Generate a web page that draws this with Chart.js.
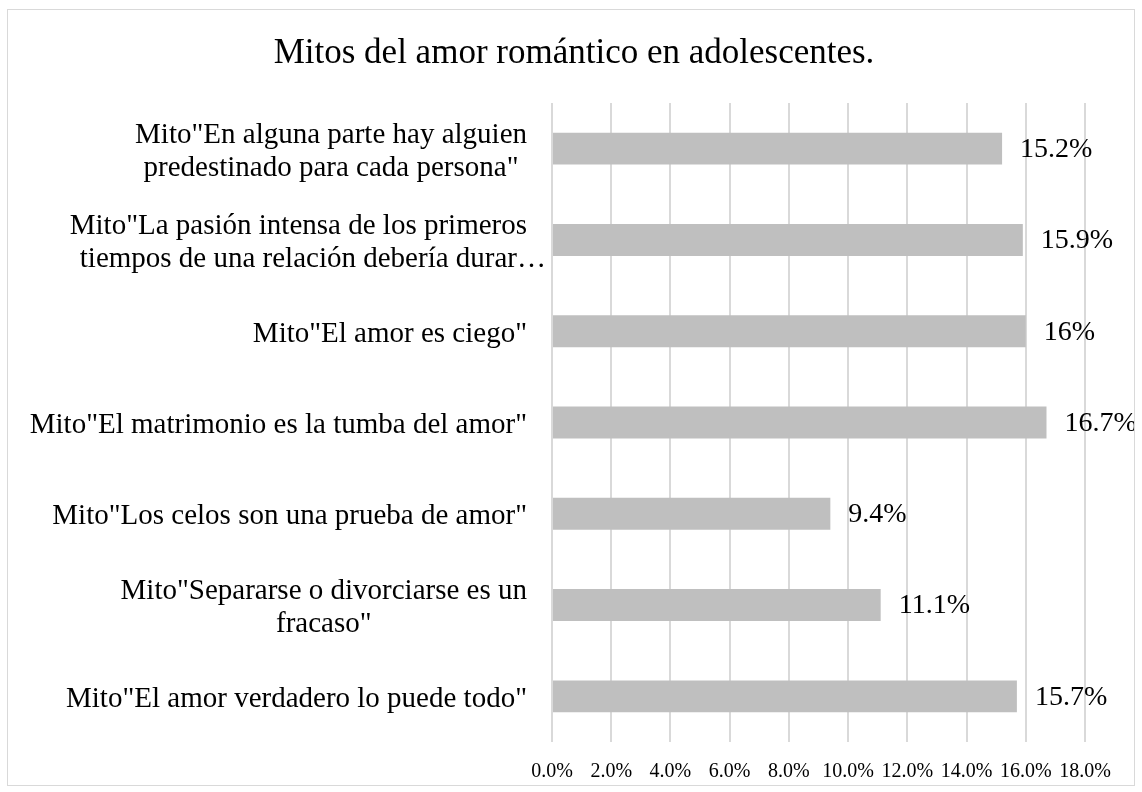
<!DOCTYPE html>
<html>
<head>
<meta charset="utf-8">
<script src="https://cdn.jsdelivr.net/npm/chart.js@4/dist/chart.umd.min.js"></script>
<style>
  body { margin: 0; background: #fff; }
  #box { position: absolute; left: 7px; top: 9px; width: 1126px; height: 775px; border: 1px solid #d9d9d9; }
</style>
</head>
<body>
<div id="box"><canvas id="chart" width="1126" height="775"></canvas></div>
<script>
// category labels (already split the way the reference wraps them)
const categories = [
  ['Mito"En alguna parte hay alguien', 'predestinado para cada persona"'],
  ['Mito"La pasión intensa de los primeros', 'tiempos de una relación debería durar…'],
  ['Mito"El amor es ciego"'],
  ['Mito"El matrimonio es la tumba del amor"'],
  ['Mito"Los celos son una prueba de amor"'],
  ['Mito"Separarse o divorciarse es un', 'fracaso"'],
  ['Mito"El amor verdadero lo puede todo"']
];
const values = [15.2, 15.9, 16, 16.7, 9.4, 11.1, 15.7];
const valueLabels = ['15.2%', '15.9%', '16%', '16.7%', '9.4%', '11.1%', '15.7%'];
const xMin = 0, xMax = 18, xStep = 2;

const FONT = '"Liberation Serif", "Times New Roman", serif';

// draws the value labels and the centred multi-line category labels
const labelPlugin = {
  id: 'labels',
  afterDatasetsDraw(chart) {
    const ctx = chart.ctx;
    const y = chart.scales.y;
    const meta = chart.getDatasetMeta(0);
    ctx.save();
    ctx.fillStyle = '#000';
    ctx.textBaseline = 'middle';

    ctx.font = '28px ' + FONT;
    ctx.textAlign = 'left';
    meta.data.forEach((bar, i) => ctx.fillText(valueLabels[i], bar.x + 18, bar.y + 1));

    // lines are centred like Excel does it: a trailing ellipsis hangs out on the right
    ctx.font = '29px ' + FONT;
    const core = l => ctx.measureText(l.replace(/…$/, '')).width;
    categories.forEach((lines, i) => {
      const cy = y.getPixelForValue(i) + 3;
      const w = Math.max(...lines.map(core));
      const cx = chart.chartArea.left - 25 - w / 2;
      lines.forEach((l, k) => {
        ctx.fillText(l, cx - core(l) / 2, cy + (k - (lines.length - 1) / 2) * 33);
      });
    });
    ctx.restore();
  }
};

new Chart(document.getElementById('chart'), {
  type: 'bar',
  data: {
    labels: categories,
    datasets: [{ data: values, backgroundColor: '#bfbfbf', barPercentage: 0.35, categoryPercentage: 1 }]
  },
  options: {
    indexAxis: 'y',
    responsive: false,
    animation: false,
    devicePixelRatio: 1,
    layout: { padding: { left: 55, right: 49, top: 0, bottom: 0 } },
    plugins: {
      legend: { display: false },
      tooltip: { enabled: false },
      title: {
        display: true,
        text: 'Mitos del amor romántico en adolescentes.',
        color: '#000',
        font: { family: FONT, size: 35, weight: 'normal', lineHeight: 1.2 },
        padding: { top: 23, bottom: 28 }
      }
    },
    scales: {
      x: {
        min: xMin, max: xMax,
        grid: { color: '#d9d9d9', lineWidth: 2, drawTicks: false },
        border: { display: false },
        ticks: {
          stepSize: xStep, padding: 18, color: '#000',
          font: { family: FONT, size: 20 },
          callback: v => v.toFixed(1) + '%'
        },
        afterFit: s => { s.height = 43; }
      },
      y: {
        grid: { display: false },
        border: { display: false },
        ticks: { display: false },
        afterFit: s => { s.width = 489; }
      }
    }
  },
  plugins: [labelPlugin]
});
</script>
</body>
</html>
